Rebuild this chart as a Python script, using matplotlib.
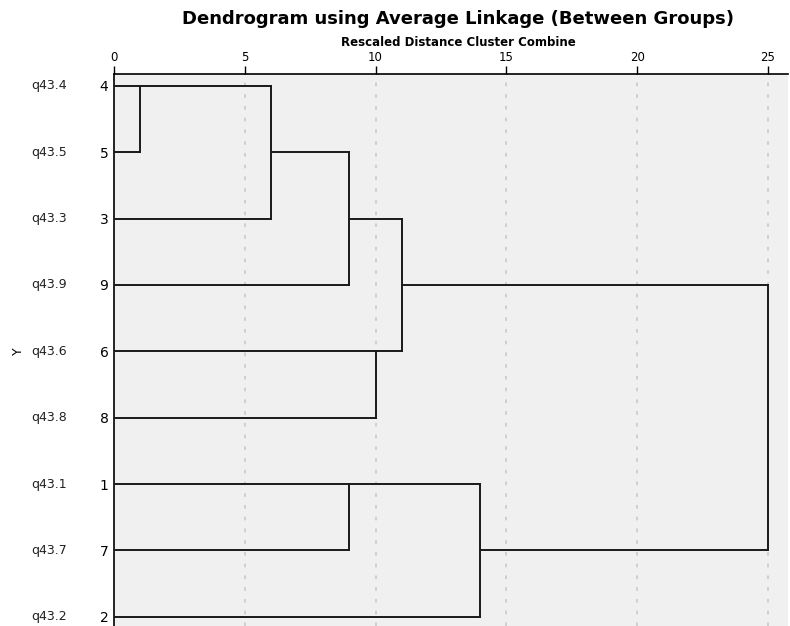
import matplotlib
matplotlib.use('Agg')
import matplotlib.pyplot as plt
import matplotlib.transforms as mtransforms
import math

# =============================================
# DATA
# =============================================
leaf_order = [4, 5, 3, 9, 6, 8, 1, 7, 2]
var_names = ['q43.4', 'q43.5', 'q43.3', 'q43.9', 'q43.6', 'q43.8', 'q43.1', 'q43.7', 'q43.2']
# merges: (child a, child b, rescaled distance); ids 0-8 are rows, 9+ new clusters
merge_a = [0, 9, 10, 4, 11, 6, 14, 13]
merge_b = [1, 2, 3, 5, 12, 7, 8, 15]
merge_dist = [1, 6, 9, 10, 11, 9, 14, 25]
x_ticks = [0, 5, 10, 15, 20, 25]

# =============================================
# FIGURE
# =============================================
fig = plt.figure(figsize=(7.9, 6.26), dpi=100)
ax = fig.add_axes([114 / 790, 0.0, (788 - 114) / 790, 1 - 74 / 626])
ax.set_facecolor('#f0f0f0')

n = len(leaf_order)
ax.set_ylim(8.14, -0.18)
ax.set_xlim(0, 25.77)

for xt in x_ticks[1:]:
    ax.axvline(xt, color='#cccccc', lw=1.3, dashes=(2, 4.5), zorder=1)

# cluster positions: (row, x)
pos = {i: (i, 0.0) for i in range(n)}
line_kw = dict(color='#1a1a1a', lw=1.4, zorder=3, solid_capstyle='projecting')
for k, (a, b, d) in enumerate(zip(merge_a, merge_b, merge_dist)):
    ya, xa = pos[a]
    yb, xb = pos[b]
    ax.plot([xa, d], [ya, ya], **line_kw)
    ax.plot([xb, d], [yb, yb], **line_kw)
    ax.plot([d, d], [ya, yb], **line_kw)
    pos[n + k] = (math.floor((ya + yb) / 2), d)

# axes styling
ax.xaxis.tick_top()
ax.set_xticks(x_ticks)
ax.tick_params(axis='x', direction='out', length=6, width=1, pad=1, labelsize=8.5)
ax.set_yticks(range(n))
ax.set_yticklabels([str(v) for v in leaf_order])
ax.tick_params(axis='y', length=0, pad=4, labelsize=10)
for s in ['right', 'bottom']:
    ax.spines[s].set_visible(False)
ax.spines['top'].set_linewidth(1.2)
ax.spines['left'].set_linewidth(1.2)

trans = mtransforms.blended_transform_factory(fig.transFigure, ax.transData)
for i, name in enumerate(var_names):
    fig.text(49 / 790, i, name, transform=trans, ha='center', va='center', fontsize=9, color='#222222')

fig.text(18 / 790, 1 - 351 / 626, 'Y', rotation=90, ha='center', va='center', fontsize=9)

fig.text(458 / 790, 1 - 19 / 626, 'Dendrogram using Average Linkage (Between Groups)',
         ha='center', va='center', fontsize=13, fontweight='bold')
fig.text(458 / 790, 1 - 42 / 626, 'Rescaled Distance Cluster Combine',
         ha='center', va='center', fontsize=8.5, fontweight='bold')

plt.savefig('out.png', dpi=100)
